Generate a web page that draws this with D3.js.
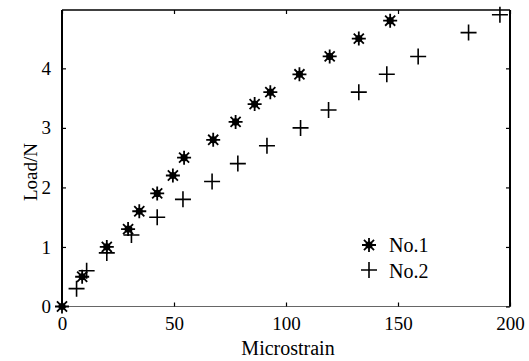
<!DOCTYPE html>
<html>
<head>
<meta charset="utf-8">
<script src="https://cdn.jsdelivr.net/npm/d3@7"></script>
<style>
  body { margin: 0; background: #fff; }
  svg text { font-family: "Liberation Serif", "Times New Roman", serif; fill: #000; }
</style>
</head>
<body>
<svg id="chart" width="529" height="361"></svg>
<script>
// values
const no1Strain = [0, 9, 20, 29.5, 34.5, 42.5, 49.5, 54.5, 67.5, 77.5, 86, 93, 106, 119.5, 132.5, 146.5];
const no1Load   = [0, 0.5, 1.0, 1.3, 1.6, 1.9, 2.2, 2.5, 2.8, 3.1, 3.4, 3.6, 3.9, 4.2, 4.5, 4.8];
const no2Strain = [6.5, 11, 20, 31, 42.5, 54, 67, 78.5, 91.5, 106.5, 119, 132.5, 145, 159, 181.5, 195.5];
const no2Load   = [0.3, 0.6, 0.9, 1.2, 1.5, 1.8, 2.1, 2.4, 2.7, 3.0, 3.3, 3.6, 3.9, 4.2, 4.6, 4.9];
const xTicks = [0, 50, 100, 150, 200];
const yTicks = [0, 1, 2, 3, 4];
const seriesNames = ["No.1", "No.2"];

const svg = d3.select("#chart");
const padL = 62, padR = 510, padT = 10, padB = 306.5;

const x = d3.scaleLinear().domain([0, 200]).range([padL, padR]);
const y = d3.scaleLinear().domain([0, 4.98]).range([padB, padT]);

// plot frame
const g = svg.append("g");
g.append("line").attr("x1", padL).attr("x2", padR).attr("y1", padB).attr("y2", padB)
  .attr("stroke", "#666").attr("stroke-width", 1);
g.append("line").attr("x1", padL).attr("x2", padR).attr("y1", padT).attr("y2", padT)
  .attr("stroke", "#000").attr("stroke-width", 1.5);
g.append("line").attr("x1", padL).attr("x2", padL).attr("y1", padT).attr("y2", padB)
  .attr("stroke", "#000").attr("stroke-width", 2);
g.append("line").attr("x1", padR).attr("x2", padR).attr("y1", padT).attr("y2", padB)
  .attr("stroke", "#000").attr("stroke-width", 2);

// inward ticks on all four sides
const xAxisB = d3.axisBottom(x).tickValues(xTicks).tickSizeInner(-4).tickSizeOuter(0).tickFormat(d3.format("d")).tickPadding(10);
const xAxisT = d3.axisTop(x).tickValues(xTicks).tickSizeInner(-4).tickSizeOuter(0).tickFormat("");
const yAxisL = d3.axisLeft(y).tickValues(yTicks).tickSizeInner(-4).tickSizeOuter(0).tickFormat(d3.format("d")).tickPadding(11);
const yAxisR = d3.axisRight(y).tickValues(yTicks).tickSizeInner(-4).tickSizeOuter(0).tickFormat("");

function styleAxis(sel) {
  sel.select(".domain").remove();
  sel.selectAll(".tick line").attr("stroke", "#000").attr("stroke-width", 1.2);
  sel.selectAll(".tick text").style("font-family", "Liberation Serif").style("font-size", "19px").attr("fill", "#000");
}
svg.append("g").attr("transform", `translate(0,${padB})`).call(xAxisB).call(styleAxis);
svg.append("g").attr("transform", `translate(0,${padT})`).call(xAxisT).call(styleAxis);
svg.append("g").attr("transform", `translate(${padL},0)`).call(yAxisL).call(styleAxis);
svg.append("g").attr("transform", `translate(${padR},0)`).call(yAxisR).call(styleAxis);

// axis titles
svg.append("text").attr("x", 288).attr("y", 355).attr("text-anchor", "middle")
  .style("font-size", "20px").text("Microstrain");
svg.append("text").attr("transform", "translate(37,172) rotate(-90)").attr("text-anchor", "middle")
  .style("font-size", "19px").text("Load/N");

// marker paths
function plusPath(cx, cy, r) {
  return `M${cx - r},${cy}H${cx + r}M${cx},${cy - r}V${cy + r}`;
}
function starPath(cx, cy, r) {
  const d = r * 0.72;
  return plusPath(cx, cy, r) + `M${cx - d},${cy - d}L${cx + d},${cy + d}M${cx - d},${cy + d}L${cx + d},${cy - d}`;
}
function drawStar(sel, cx, cy) {
  sel.append("path").attr("d", starPath(cx, cy, 7)).attr("stroke", "#000").attr("stroke-width", 1.8);
  sel.append("circle").attr("cx", cx).attr("cy", cy).attr("r", 3.6).attr("fill", "#000");
}
function drawPlus(sel, cx, cy) {
  sel.append("path").attr("d", plusPath(cx, cy, 8)).attr("stroke", "#000").attr("stroke-width", 1.6);
}

const pts1 = no1Strain.map((s, i) => ({ s, l: no1Load[i] }));
const pts2 = no2Strain.map((s, i) => ({ s, l: no2Load[i] }));

const m = svg.append("g");
pts2.forEach(p => drawPlus(m, x(p.s), y(p.l)));
pts1.forEach(p => drawStar(m, x(p.s), y(p.l)));

// legend
const lg = svg.append("g");
drawStar(lg, 369, 245);
drawPlus(lg, 369, 270);
lg.append("text").attr("x", 389).attr("y", 252).style("font-size", "20px").text(seriesNames[0]);
lg.append("text").attr("x", 389).attr("y", 278).style("font-size", "20px").text(seriesNames[1]);
</script>
</body>
</html>
